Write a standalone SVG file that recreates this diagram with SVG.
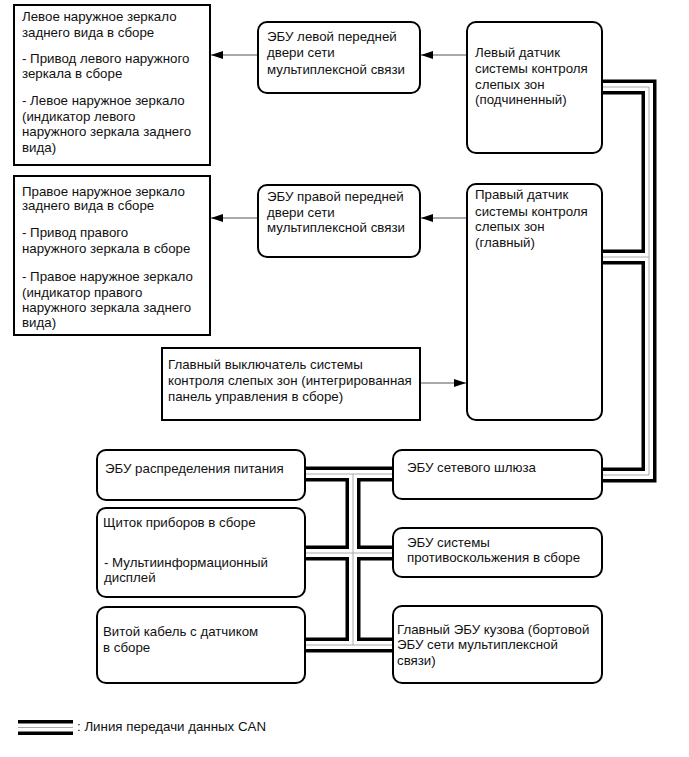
<svg xmlns="http://www.w3.org/2000/svg" width="689" height="757" viewBox="0 0 689 757">
<style>
text{font-family:"Liberation Sans",Arial,sans-serif;font-size:13.3px;fill:#111}
.box{fill:#fff;stroke:#000;stroke-width:2}
.arr{stroke:#555;stroke-width:1;fill:none;marker-end:url(#ah)}
.busB{fill:none;stroke:#000;stroke-width:15;stroke-linejoin:miter;stroke-linecap:butt}
.busW{fill:none;stroke:#fff;stroke-width:8;stroke-linejoin:miter;stroke-linecap:butt}
.busG{fill:none;stroke:#aaa;stroke-width:1;stroke-linejoin:miter;stroke-linecap:butt}
</style>
<defs>
<marker id="ah" markerUnits="userSpaceOnUse" viewBox="0 0 12 8" refX="12" refY="4" markerWidth="12" markerHeight="8" orient="auto">
<path d="M0,0 L12,4 L0,8 z" fill="#000"/>
</marker>
</defs>
<rect width="689" height="757" fill="#fff"/>
<g id="connectors">
<g class="busB">
<path d="M602,87 H649 V475 H602"/>
<path d="M649,257 H602"/>
<path d="M305,474 H393"/>
<path d="M353,474 V645"/>
<path d="M305,553 H393"/>
<path d="M305,645 H393"/>
<path d="M18,727.5 H73"/>
</g>
<g class="busW">
<path d="M602,87 H649 V475 H602"/>
<path d="M649,257 H602"/>
<path d="M305,474 H393"/>
<path d="M353,474 V645"/>
<path d="M305,553 H393"/>
<path d="M305,645 H393"/>
<path d="M18,727.5 H73"/>
</g>
<g class="busG">
<path d="M602,87 H649 V475 H602"/>
<path d="M649,257 H602"/>
<path d="M305,474 H393"/>
<path d="M353,474 V645"/>
<path d="M305,553 H393"/>
<path d="M305,645 H393"/>
<path d="M18,727.5 H73"/>
</g>
<path class="arr" d="M467,55 H421"/>
<path class="arr" d="M258,55 H211"/>
<path class="arr" d="M467,218 H421"/>
<path class="arr" d="M258,218 H211"/>
<path class="arr" d="M420,383 H466"/>
</g>
<g id="left-mirror">
<rect class="box" x="14" y="5" width="196" height="160"/>
<text x="22" y="21">Левое наружное зеркало</text>
<text x="22" y="37">заднего вида в сборе</text>
<text x="22" y="63">- Привод левого наружного</text>
<text x="22" y="78">зеркала в сборе</text>
<text x="22" y="105">- Левое наружное зеркало</text>
<text x="22" y="121">(индикатор левого</text>
<text x="22" y="136">наружного зеркала заднего</text>
<text x="22" y="152">вида)</text>
</g>
<g id="left-door-ecu">
<rect class="box" x="258" y="22" width="162" height="71" rx="9"/>
<text x="267" y="41">ЭБУ левой передней</text>
<text x="267" y="57">двери сети</text>
<text x="267" y="74">мультиплексной связи</text>
</g>
<g id="left-sensor">
<rect class="box" x="467" y="22" width="135" height="131" rx="9"/>
<text x="475" y="57">Левый датчик</text>
<text x="475" y="73">системы контроля</text>
<text x="475" y="89">слепых зон</text>
<text x="475" y="104">(подчиненный)</text>
</g>
<g id="right-mirror">
<rect class="box" x="14" y="176" width="196" height="159"/>
<text x="22" y="196">Правое наружное зеркало</text>
<text x="22" y="210">заднего вида в сборе</text>
<text x="22" y="237">- Привод правого</text>
<text x="22" y="253">наружного зеркала в сборе</text>
<text x="22" y="281">- Правое наружное зеркало</text>
<text x="22" y="297">(индикатор правого</text>
<text x="22" y="312">наружного зеркала заднего</text>
<text x="22" y="327">вида)</text>
</g>
<g id="right-door-ecu">
<rect class="box" x="258" y="185" width="162" height="72" rx="9"/>
<text x="267" y="201">ЭБУ правой передней</text>
<text x="267" y="217">двери сети</text>
<text x="267" y="232">мультиплексной связи</text>
</g>
<g id="right-sensor">
<rect class="box" x="467" y="184" width="135" height="236" rx="9"/>
<text x="475" y="199">Правый датчик</text>
<text x="475" y="216">системы контроля</text>
<text x="475" y="231">слепых зон</text>
<text x="475" y="247">(главный)</text>
</g>
<g id="main-switch">
<rect class="box" x="162" y="348" width="258" height="72"/>
<text x="168" y="369">Главный выключатель системы</text>
<text x="168" y="385">контроля слепых зон (интегрированная</text>
<text x="168" y="401">панель управления в сборе)</text>
</g>
<g id="power-ecu">
<rect class="box" x="97" y="450" width="208" height="50" rx="9"/>
<text x="105" y="473">ЭБУ распределения питания</text>
</g>
<g id="meter">
<rect class="box" x="97" y="508" width="208" height="89" rx="9"/>
<text x="103" y="527">Щиток приборов в сборе</text>
<text x="104" y="567">- Мультиинформационный</text>
<text x="104" y="582">дисплей</text>
</g>
<g id="spiral-cable">
<rect class="box" x="97" y="607" width="208" height="76" rx="9"/>
<text x="103" y="636">Витой кабель с датчиком</text>
<text x="103" y="652">в сборе</text>
</g>
<g id="gateway-ecu">
<rect class="box" x="393" y="450" width="209" height="49" rx="9"/>
<text x="407" y="472">ЭБУ сетевого шлюза</text>
</g>
<g id="skid-ecu">
<rect class="box" x="393" y="528" width="209" height="49" rx="9"/>
<text x="407" y="547">ЭБУ системы</text>
<text x="407" y="562">противоскольжения в сборе</text>
</g>
<g id="body-ecu">
<rect class="box" x="393" y="606" width="209" height="77" rx="9"/>
<text x="397" y="634">Главный ЭБУ кузова (бортовой</text>
<text x="397" y="649">ЭБУ сети мультиплексной</text>
<text x="397" y="665">связи)</text>
</g>
<g id="legend">
<text x="77" y="731">: Линия передачи данных CAN</text>
</g>
</svg>
